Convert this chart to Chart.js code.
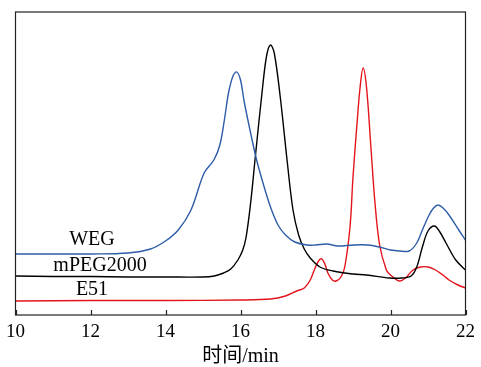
<!DOCTYPE html>
<html>
<head>
<meta charset="utf-8">
<script src="https://cdn.jsdelivr.net/npm/chart.js@4"></script>
<style>
html,body{margin:0;padding:0;background:#fff;}
canvas{display:block;}
</style>
</head>
<body>
<canvas id="c" width="481" height="367"></canvas>
<script>
// X-axis tick values (retention time, min)
const xTicks = [10, 12, 14, 16, 18, 20, 22];

// WEG (blue)
const wegX = [10, 11, 12, 13, 13.6, 14, 14.34, 14.68, 15.03, 15.29, 15.45, 15.57, 15.68, 15.8, 15.9, 16.0, 16.1, 16.27, 16.43, 16.6, 16.8, 17.0, 17.2, 17.45, 17.78, 18.0, 18.3, 18.6, 19.0, 19.4, 19.7, 20.0, 20.24, 20.5, 20.7, 20.85, 21.03, 21.15, 21.27, 21.4, 21.56, 21.82, 22];
const wegY = [61, 61, 61, 62, 66, 74, 85, 105, 142, 155, 170, 195, 222, 239, 243, 235, 213, 182, 155, 132, 108, 90, 80, 73, 70, 70, 71, 69, 70, 70, 68, 65, 64, 64, 72, 85, 100, 107, 110, 107, 100, 85, 75];

// mPEG2000 (black)
const mpegX = [10, 11, 12, 13, 14, 15, 15.3, 15.55, 15.74, 15.93, 16.06, 16.15, 16.27, 16.4, 16.59, 16.7, 16.8, 16.9, 17.06, 17.25, 17.4, 17.55, 17.7, 17.86, 18.12, 18.47, 19.0, 19.36, 19.97, 20.3, 20.55, 20.7, 20.85, 21.0, 21.17, 21.3, 21.48, 21.74, 22];
const mpegY = [39, 38.5, 38.5, 38, 38, 38, 39, 42, 46, 55, 65, 78, 112, 160, 228, 260, 270, 262, 218, 152, 105, 80, 66, 57, 48, 44, 41, 40, 37, 37, 39, 48, 68, 84, 89, 84, 72, 55, 45];

// E51 (red)
const e51X = [10, 12, 14, 16, 16.8, 17.2, 17.5, 17.7, 17.86, 18.0, 18.1, 18.17, 18.25, 18.33, 18.45, 18.55, 18.68, 18.78, 18.92, 19.0, 19.1, 19.19, 19.27, 19.36, 19.47, 19.58, 19.71, 19.89, 20.0, 20.24, 20.4, 20.6, 20.8, 21.0, 21.2, 21.4, 21.56, 21.8, 22];
const e51Y = [14, 14.5, 14.5, 15, 16, 19, 24, 27, 35, 48, 55, 56, 51, 42, 35, 34, 38, 48, 88, 138, 188, 228, 247, 228, 172, 115, 70, 45, 40, 34, 37, 45, 48, 48, 45, 40, 35, 30, 27];

const seriesNames = ['WEG', 'mPEG2000', 'E51'];

function pts(xs, ys) { return xs.map((x, i) => ({x: x, y: ys[i]})); }

const labelPlugin = {
  id: 'labels',
  afterDatasetsDraw(chart) {
    const ctx = chart.ctx;
    const a = chart.chartArea;
    ctx.save();
    ctx.strokeStyle = '#222';
    ctx.lineWidth = 1.2;
    ctx.strokeRect(a.left, a.top, a.right - a.left, a.bottom - a.top);
    const xs = chart.scales.x;
    xTicks.forEach(v => {
      const px = Math.round(xs.getPixelForValue(v)) + 0.5;
      ctx.beginPath();
      ctx.moveTo(px, a.bottom);
      ctx.lineTo(px, a.bottom - 5);
      ctx.stroke();
    });
    ctx.fillStyle = '#000';
    ctx.font = '20px "Liberation Serif", "Times New Roman", serif';
    ctx.textAlign = 'center';
    ctx.textBaseline = 'middle';
    ctx.fillText(seriesNames[0], 92, 240);
    ctx.fillText(seriesNames[1], 100, 266);
    ctx.fillText(seriesNames[2], 92, 290);
    ctx.restore();
  }
};

const common = {borderWidth: 1.4, pointRadius: 0, fill: false, tension: 0.35};

new Chart(document.getElementById('c'), {
  type: 'line',
  data: {
    datasets: [
      Object.assign({label: seriesNames[0], data: pts(wegX, wegY), borderColor: '#2d5ca8'}, common),
      Object.assign({label: seriesNames[1], data: pts(mpegX, mpegY), borderColor: '#000000'}, common),
      Object.assign({label: seriesNames[2], data: pts(e51X, e51Y), borderColor: '#e3141c'}, common)
    ]
  },
  options: {
    responsive: false,
    animation: false,
    devicePixelRatio: 1,
    layout: {padding: {left: 13, right: 14, top: 12, bottom: 0}},
    plugins: {legend: {display: false}, tooltip: {enabled: false}},
    scales: {
      x: {
        type: 'linear', min: 10, max: 22,
        afterBuildTicks(scale) { scale.ticks = xTicks.map(v => ({value: v})); },
        afterFit(scale) { scale.height = 52; },
        grid: {display: false, drawTicks: false},
        border: {display: false},
        ticks: {color: '#000', padding: 6, font: {family: '"Liberation Serif", "Times New Roman", serif', size: 19}},
        title: {display: true, text: '时间/min', color: '#000', padding: {top: 0, bottom: 0}, font: {family: '"Liberation Serif", "Noto Sans CJK SC", serif', size: 20, lineHeight: 1}}
      },
      y: {display: false, min: 0, max: 303}
    }
  },
  plugins: [labelPlugin]
});
</script>
</body>
</html>
